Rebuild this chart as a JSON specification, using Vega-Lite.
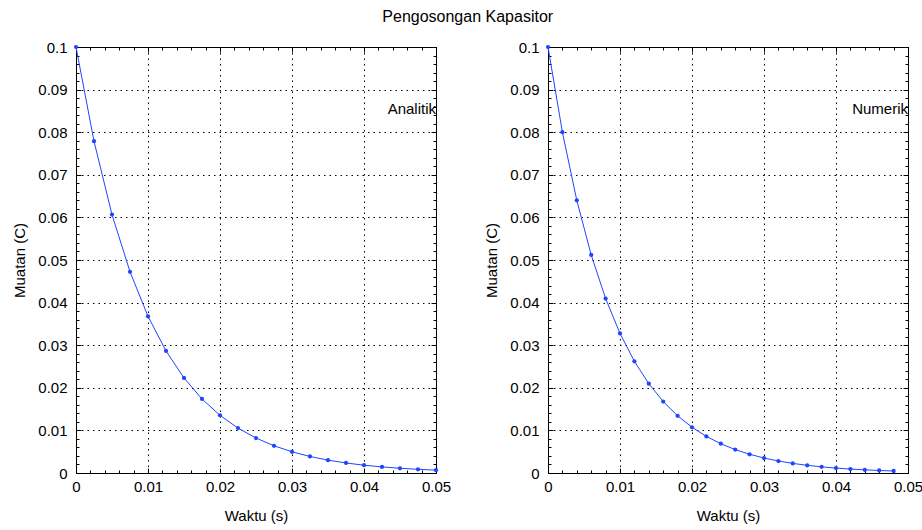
{
  "$schema": "https://vega.github.io/schema/vega-lite/v6.json",
  "background": "white",
  "padding": {"left": 12, "top": 8, "right": 5, "bottom": 5},
  "title": {"text": "Pengosongan Kapasitor", "anchor": "middle", "offset": 15, "fontSize": 16},
  "datasets": {
    "analitik": [
      {"t": 0, "q": 0.1},
      {"t": 0.0025, "q": 0.07788},
      {"t": 0.005, "q": 0.060653},
      {"t": 0.0075, "q": 0.047237},
      {"t": 0.01, "q": 0.036788},
      {"t": 0.0125, "q": 0.02865},
      {"t": 0.015, "q": 0.022313},
      {"t": 0.0175, "q": 0.017377},
      {"t": 0.02, "q": 0.013534},
      {"t": 0.0225, "q": 0.01054},
      {"t": 0.025, "q": 0.008208},
      {"t": 0.0275, "q": 0.006393},
      {"t": 0.03, "q": 0.004979},
      {"t": 0.0325, "q": 0.003877},
      {"t": 0.035, "q": 0.00302},
      {"t": 0.0375, "q": 0.002352},
      {"t": 0.04, "q": 0.001832},
      {"t": 0.0425, "q": 0.001426},
      {"t": 0.045, "q": 0.001111},
      {"t": 0.0475, "q": 0.000865},
      {"t": 0.05, "q": 0.000674}
    ],
    "numerik": [
      {"t": 0, "q": 0.1},
      {"t": 0.002, "q": 0.08},
      {"t": 0.004, "q": 0.064},
      {"t": 0.006, "q": 0.0512},
      {"t": 0.008, "q": 0.04096},
      {"t": 0.01, "q": 0.032768},
      {"t": 0.012, "q": 0.026214},
      {"t": 0.014, "q": 0.020972},
      {"t": 0.016, "q": 0.016777},
      {"t": 0.018, "q": 0.013422},
      {"t": 0.02, "q": 0.010737},
      {"t": 0.022, "q": 0.00859},
      {"t": 0.024, "q": 0.006872},
      {"t": 0.026, "q": 0.005498},
      {"t": 0.028, "q": 0.004398},
      {"t": 0.03, "q": 0.003518},
      {"t": 0.032, "q": 0.002815},
      {"t": 0.034, "q": 0.002252},
      {"t": 0.036, "q": 0.001801},
      {"t": 0.038, "q": 0.001441},
      {"t": 0.04, "q": 0.001153},
      {"t": 0.042, "q": 0.000922},
      {"t": 0.044, "q": 0.000738},
      {"t": 0.046, "q": 0.00059},
      {"t": 0.048, "q": 0.000472}
    ],
    "labelA": [{"label": "Analitik", "t": 0.05, "q": 0.0855}],
    "labelN": [{"label": "Numerik", "t": 0.05, "q": 0.0855}]
  },
  "config": {
    "view": {"stroke": "black", "strokeWidth": 1},
    "axis": {
      "domainColor": "black", "domainWidth": 1,
      "tickColor": "black", "tickWidth": 1,
      "labelColor": "black", "titleColor": "black",
      "labelFont": "Liberation Sans", "titleFont": "Liberation Sans",
      "labelFontSize": 15, "titleFontSize": 15, "titleFontWeight": "normal",
      "gridColor": "black", "gridDash": [1.5, 4], "gridOpacity": 1, "gridWidth": 1,
      "labelFlush": false, "labelOverlap": false
    },
    "title": {"font": "Liberation Sans", "fontSize": 16, "fontWeight": "normal", "color": "black"},
    "text": {"font": "Liberation Sans", "fontSize": 15}
  },
  "spacing": 32,
  "hconcat": [
    {
      "width": 360, "height": 426,
      "resolve": {"scale": {"x": "independent", "y": "independent"}, "axis": {"x": "independent", "y": "independent"}},
      "layer": [
        {
          "data": {"name": "analitik"},
          "mark": {"type": "line", "color": "#1f45ff", "strokeWidth": 1, "point": {"filled": true, "size": 18, "color": "#1f45ff"}},
          "encoding": {
            "x": {"field": "t", "type": "quantitative", "scale": {"domain": [0, 0.05], "nice": false, "zero": false},
              "axis": {"orient": "bottom", "title": "Waktu (s)", "values": [0, 0.01, 0.02, 0.03, 0.04, 0.05], "format": "~g", "grid": true, "tickSize": -5, "labelPadding": 11, "titlePadding": 14}},
            "y": {"field": "q", "type": "quantitative", "scale": {"domain": [0, 0.1], "nice": false, "zero": false},
              "axis": {"orient": "left", "title": "Muatan (C)", "values": [0, 0.01, 0.02, 0.03, 0.04, 0.05, 0.06, 0.07, 0.08, 0.09, 0.1], "format": "~g", "grid": true, "tickSize": -5, "labelPadding": 14, "titlePadding": 10}}
          }
        },
        {
          "data": {"name": "labelA"},
          "mark": {"type": "text", "align": "right", "baseline": "middle", "color": "black"},
          "encoding": {
            "x": {"field": "t", "type": "quantitative", "scale": {"domain": [0, 0.05], "nice": false, "zero": false},
              "axis": {"orient": "top", "title": null, "labels": false, "grid": false, "domain": false, "values": [0, 0.01, 0.02, 0.03, 0.04, 0.05], "tickSize": -5}},
            "y": {"field": "q", "type": "quantitative", "scale": {"domain": [0, 0.1], "nice": false, "zero": false},
              "axis": {"orient": "right", "title": null, "labels": false, "grid": false, "domain": false, "values": [0, 0.01, 0.02, 0.03, 0.04, 0.05, 0.06, 0.07, 0.08, 0.09, 0.1], "tickSize": -5}},
            "text": {"field": "label"}
          }
        },
        {
          "data": {"name": "analitik"},
          "mark": {"type": "point", "opacity": 0},
          "encoding": {
            "x": {"field": "t", "type": "quantitative", "scale": {"domain": [0, 0.05], "nice": false, "zero": false},
              "axis": {"orient": "bottom", "title": null, "labels": false, "grid": false, "domain": false, "values": [0, 0.002, 0.004, 0.006, 0.008, 0.01, 0.012, 0.014, 0.016, 0.018, 0.02, 0.022, 0.024, 0.026, 0.028, 0.03, 0.032, 0.034, 0.036, 0.038, 0.04, 0.042, 0.044, 0.046, 0.048, 0.05], "tickSize": -3}},
            "y": {"field": "q", "type": "quantitative", "scale": {"domain": [0, 0.1], "nice": false, "zero": false},
              "axis": {"orient": "left", "title": null, "labels": false, "grid": false, "domain": false, "values": [0, 0.002, 0.004, 0.006, 0.008, 0.01, 0.012, 0.014, 0.016, 0.018, 0.02, 0.022, 0.024, 0.026, 0.028, 0.03, 0.032, 0.034, 0.036, 0.038, 0.04, 0.042, 0.044, 0.046, 0.048, 0.05, 0.052, 0.054, 0.056, 0.058, 0.06, 0.062, 0.064, 0.066, 0.068, 0.07, 0.072, 0.074, 0.076, 0.078, 0.08, 0.082, 0.084, 0.086, 0.088, 0.09, 0.092, 0.094, 0.096, 0.098, 0.1], "tickSize": -3}}
          }
        },
        {
          "data": {"name": "analitik"},
          "mark": {"type": "point", "opacity": 0},
          "encoding": {
            "x": {"field": "t", "type": "quantitative", "scale": {"domain": [0, 0.05], "nice": false, "zero": false},
              "axis": {"orient": "top", "title": null, "labels": false, "grid": false, "domain": false, "values": [0, 0.002, 0.004, 0.006, 0.008, 0.01, 0.012, 0.014, 0.016, 0.018, 0.02, 0.022, 0.024, 0.026, 0.028, 0.03, 0.032, 0.034, 0.036, 0.038, 0.04, 0.042, 0.044, 0.046, 0.048, 0.05], "tickSize": -3}},
            "y": {"field": "q", "type": "quantitative", "scale": {"domain": [0, 0.1], "nice": false, "zero": false},
              "axis": {"orient": "right", "title": null, "labels": false, "grid": false, "domain": false, "values": [0, 0.002, 0.004, 0.006, 0.008, 0.01, 0.012, 0.014, 0.016, 0.018, 0.02, 0.022, 0.024, 0.026, 0.028, 0.03, 0.032, 0.034, 0.036, 0.038, 0.04, 0.042, 0.044, 0.046, 0.048, 0.05, 0.052, 0.054, 0.056, 0.058, 0.06, 0.062, 0.064, 0.066, 0.068, 0.07, 0.072, 0.074, 0.076, 0.078, 0.08, 0.082, 0.084, 0.086, 0.088, 0.09, 0.092, 0.094, 0.096, 0.098, 0.1], "tickSize": -3}}
          }
        }
      ]
    },
    {
      "width": 360, "height": 426,
      "resolve": {"scale": {"x": "independent", "y": "independent"}, "axis": {"x": "independent", "y": "independent"}},
      "layer": [
        {
          "data": {"name": "numerik"},
          "mark": {"type": "line", "color": "#1f45ff", "strokeWidth": 1, "point": {"filled": true, "size": 18, "color": "#1f45ff"}},
          "encoding": {
            "x": {"field": "t", "type": "quantitative", "scale": {"domain": [0, 0.05], "nice": false, "zero": false},
              "axis": {"orient": "bottom", "title": "Waktu (s)", "values": [0, 0.01, 0.02, 0.03, 0.04, 0.05], "format": "~g", "grid": true, "tickSize": -5, "labelPadding": 11, "titlePadding": 14}},
            "y": {"field": "q", "type": "quantitative", "scale": {"domain": [0, 0.1], "nice": false, "zero": false},
              "axis": {"orient": "left", "title": "Muatan (C)", "values": [0, 0.01, 0.02, 0.03, 0.04, 0.05, 0.06, 0.07, 0.08, 0.09, 0.1], "format": "~g", "grid": true, "tickSize": -5, "labelPadding": 14, "titlePadding": 10}}
          }
        },
        {
          "data": {"name": "labelN"},
          "mark": {"type": "text", "align": "right", "baseline": "middle", "color": "black"},
          "encoding": {
            "x": {"field": "t", "type": "quantitative", "scale": {"domain": [0, 0.05], "nice": false, "zero": false},
              "axis": {"orient": "top", "title": null, "labels": false, "grid": false, "domain": false, "values": [0, 0.01, 0.02, 0.03, 0.04, 0.05], "tickSize": -5}},
            "y": {"field": "q", "type": "quantitative", "scale": {"domain": [0, 0.1], "nice": false, "zero": false},
              "axis": {"orient": "right", "title": null, "labels": false, "grid": false, "domain": false, "values": [0, 0.01, 0.02, 0.03, 0.04, 0.05, 0.06, 0.07, 0.08, 0.09, 0.1], "tickSize": -5}},
            "text": {"field": "label"}
          }
        },
        {
          "data": {"name": "numerik"},
          "mark": {"type": "point", "opacity": 0},
          "encoding": {
            "x": {"field": "t", "type": "quantitative", "scale": {"domain": [0, 0.05], "nice": false, "zero": false},
              "axis": {"orient": "bottom", "title": null, "labels": false, "grid": false, "domain": false, "values": [0, 0.002, 0.004, 0.006, 0.008, 0.01, 0.012, 0.014, 0.016, 0.018, 0.02, 0.022, 0.024, 0.026, 0.028, 0.03, 0.032, 0.034, 0.036, 0.038, 0.04, 0.042, 0.044, 0.046, 0.048, 0.05], "tickSize": -3}},
            "y": {"field": "q", "type": "quantitative", "scale": {"domain": [0, 0.1], "nice": false, "zero": false},
              "axis": {"orient": "left", "title": null, "labels": false, "grid": false, "domain": false, "values": [0, 0.002, 0.004, 0.006, 0.008, 0.01, 0.012, 0.014, 0.016, 0.018, 0.02, 0.022, 0.024, 0.026, 0.028, 0.03, 0.032, 0.034, 0.036, 0.038, 0.04, 0.042, 0.044, 0.046, 0.048, 0.05, 0.052, 0.054, 0.056, 0.058, 0.06, 0.062, 0.064, 0.066, 0.068, 0.07, 0.072, 0.074, 0.076, 0.078, 0.08, 0.082, 0.084, 0.086, 0.088, 0.09, 0.092, 0.094, 0.096, 0.098, 0.1], "tickSize": -3}}
          }
        },
        {
          "data": {"name": "numerik"},
          "mark": {"type": "point", "opacity": 0},
          "encoding": {
            "x": {"field": "t", "type": "quantitative", "scale": {"domain": [0, 0.05], "nice": false, "zero": false},
              "axis": {"orient": "top", "title": null, "labels": false, "grid": false, "domain": false, "values": [0, 0.002, 0.004, 0.006, 0.008, 0.01, 0.012, 0.014, 0.016, 0.018, 0.02, 0.022, 0.024, 0.026, 0.028, 0.03, 0.032, 0.034, 0.036, 0.038, 0.04, 0.042, 0.044, 0.046, 0.048, 0.05], "tickSize": -3}},
            "y": {"field": "q", "type": "quantitative", "scale": {"domain": [0, 0.1], "nice": false, "zero": false},
              "axis": {"orient": "right", "title": null, "labels": false, "grid": false, "domain": false, "values": [0, 0.002, 0.004, 0.006, 0.008, 0.01, 0.012, 0.014, 0.016, 0.018, 0.02, 0.022, 0.024, 0.026, 0.028, 0.03, 0.032, 0.034, 0.036, 0.038, 0.04, 0.042, 0.044, 0.046, 0.048, 0.05, 0.052, 0.054, 0.056, 0.058, 0.06, 0.062, 0.064, 0.066, 0.068, 0.07, 0.072, 0.074, 0.076, 0.078, 0.08, 0.082, 0.084, 0.086, 0.088, 0.09, 0.092, 0.094, 0.096, 0.098, 0.1], "tickSize": -3}}
          }
        }
      ]
    }
  ]
}
